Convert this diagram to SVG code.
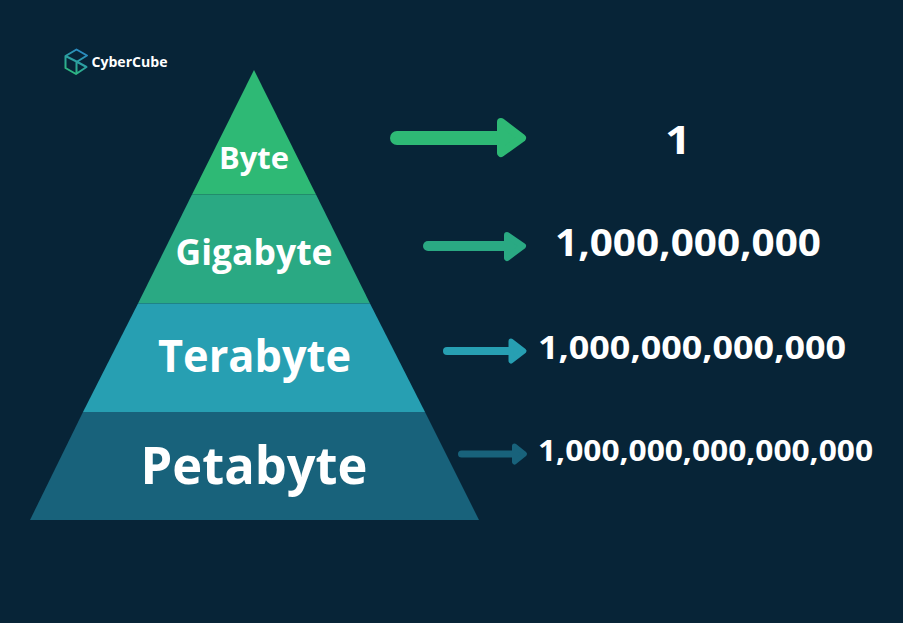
<svg xmlns="http://www.w3.org/2000/svg" width="903" height="623" viewBox="0 0 903 623">
<style>
.t{font-family:"Open Sans","Noto Sans","DejaVu Sans",sans-serif;font-weight:700;fill:#fff;text-anchor:middle}
.shaft{fill:none;stroke-linecap:round}
.head{stroke-linejoin:round}
</style>
<defs>
<linearGradient id="lg" gradientUnits="userSpaceOnUse" x1="82" y1="49" x2="68" y2="74"><stop offset="0" stop-color="#2a86c8"/><stop offset="1" stop-color="#2ebd78"/></linearGradient>
</defs>
<rect width="903" height="623" fill="#072437"/>
<g id="logo">
<path d="M76.500 62L87 55.500L76.500 49.500L65.500 56V68L76 74L86.500 67L76.500 61.500L65.500 56M76.500 62V73.500" fill="none" stroke="url(#lg)" stroke-width="2" stroke-linejoin="round"/>
<text x="129.500" y="67" class="t" font-size="14.500" textLength="76" lengthAdjust="spacingAndGlyphs">CyberCube</text>
</g>
<g id="tier-byte">
<polygon points="254,70 316,194.500 192,194.500" fill="#2eb975"/>
<text x="254" y="169" class="t" font-size="31" textLength="70" lengthAdjust="spacingAndGlyphs">Byte</text>
</g>
<g id="tier-gigabyte">
<polygon points="192,194.500 316,194.500 370,303.500 138,303.500" fill="#2aa983"/>
<text x="254" y="265" class="t" font-size="36" textLength="157" lengthAdjust="spacingAndGlyphs">Gigabyte</text>
</g>
<g id="tier-terabyte">
<polygon points="138,303.500 370,303.500 425,412 83,412" fill="#279fb2"/>
<text x="254.500" y="372" class="t" font-size="44" textLength="193" lengthAdjust="spacingAndGlyphs">Terabyte</text>
</g>
<g id="tier-petabyte">
<polygon points="83,412 425,412 479,520 30,520" fill="#18627b"/>
<text x="254" y="484" class="t" font-size="52" textLength="227" lengthAdjust="spacingAndGlyphs">Petabyte</text>
</g>
<g id="connectors">
<path class="shaft" d="M397 138H500" stroke="#2eb975" stroke-width="14"/>
<path class="head" d="M501 122L522 138L501 153Z" fill="#2eb975" stroke="#2eb975" stroke-width="8"/>
<path class="shaft" d="M428 246H507" stroke="#2aa983" stroke-width="10"/>
<path class="head" d="M507 235L523 246L507 258Z" fill="#2aa983" stroke="#2aa983" stroke-width="6"/>
<path class="shaft" d="M447 351H510" stroke="#279fb2" stroke-width="8"/>
<path class="head" d="M511 341L524 351L511 361Z" fill="#279fb2" stroke="#279fb2" stroke-width="5"/>
<path class="shaft" d="M461.500 454H515" stroke="#18627b" stroke-width="7"/>
<path class="head" d="M514.500 446L524.500 454L514.500 462Z" fill="#18627b" stroke="#18627b" stroke-width="5"/>
</g>
<g id="values">
<text x="678" y="153.500" class="t" font-size="40" textLength="26" lengthAdjust="spacingAndGlyphs">1</text>
<text x="688" y="256" class="t" font-size="38" textLength="266" lengthAdjust="spacingAndGlyphs">1,000,000,000</text>
<text x="692" y="358.500" class="t" font-size="33" textLength="308" lengthAdjust="spacingAndGlyphs">1,000,000,000,000</text>
<text x="705.500" y="460.500" class="t" font-size="28" textLength="335" lengthAdjust="spacingAndGlyphs">1,000,000,000,000,000</text>
</g>
</svg>
